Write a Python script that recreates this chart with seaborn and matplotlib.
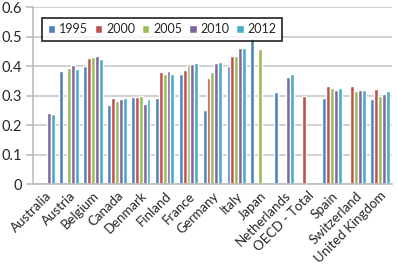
import numpy as np
import pandas as pd
import matplotlib
matplotlib.use("Agg")
import matplotlib.pyplot as plt
import seaborn as sns

countries = [
    "Australia", "Austria", "Belgium", "Canada", "Denmark", "Finland",
    "France", "Germany", "Italy", "Japan", "Netherlands", "OECD - Total",
    "Spain", "Switzerland", "United Kingdom",
]
years = ["1995", "2000", "2005", "2010", "2012"]
nan = np.nan
v1995 = [nan, 0.383, 0.400, 0.268, 0.295, 0.293, 0.372, 0.251, 0.400, 0.494, 0.313, nan, 0.293, nan, 0.290]
v2000 = [nan, nan, 0.429, 0.293, 0.295, 0.381, 0.386, 0.358, 0.435, nan, nan, 0.300, 0.333, 0.333, 0.321]
v2005 = [nan, 0.393, 0.432, 0.281, 0.299, 0.373, 0.407, 0.379, 0.435, 0.458, nan, nan, 0.325, 0.315, 0.300]
v2010 = [0.240, 0.403, 0.433, 0.287, 0.273, 0.383, 0.407, 0.410, 0.460, nan, 0.364, nan, 0.318, 0.318, 0.306]
v2012 = [0.237, 0.389, 0.423, 0.293, 0.288, 0.374, 0.410, 0.415, 0.460, nan, 0.372, nan, 0.324, 0.318, 0.315]
colors = ["#4F81BD", "#C0504D", "#9BBB59", "#8064A2", "#4BACC6"]

df = pd.DataFrame({"country": countries, "1995": v1995, "2000": v2000,
                   "2005": v2005, "2010": v2010, "2012": v2012})
df_long = df.melt(id_vars="country", var_name="year", value_name="value")

sns.set_style("white")
plt.rcParams["font.family"] = ["Lato", "DejaVu Sans"]

fig = plt.figure(figsize=(3.97, 2.64), dpi=100)
ax = fig.add_axes([0.083, 0.303, 0.904, 0.67])
sns.barplot(data=df_long, x="country", y="value", hue="year", order=countries,
            hue_order=years, palette=colors, errorbar=None, width=0.82,
            saturation=1, ax=ax)

ax.set_ylim(0, 0.6)
ax.set_xlim(-0.5, len(countries) - 0.5)
ax.set_yticks(np.arange(0, 0.61, 0.1))
ax.set_yticklabels(["0", "0.1", "0.2", "0.3", "0.4", "0.5", "0.6"])
ax.yaxis.grid(True, color="#c8c8c8", linewidth=1.2)
ax.set_axisbelow(True)
ax.set_xlabel("")
ax.set_ylabel("")
for s in ["top", "right"]:
    ax.spines[s].set_visible(False)
for s in ["left", "bottom"]:
    ax.spines[s].set_color("#bdbdbd")
    ax.spines[s].set_linewidth(1.2)

ax.set_xticks(range(len(countries)))
ax.set_xticklabels(countries, rotation=45, ha="right", rotation_mode="anchor")
ax.set_xticks(np.arange(-0.5, len(countries), 1), minor=True)
ax.tick_params(axis="x", which="major", length=0, labelsize=9.5, pad=4)
ax.tick_params(axis="x", which="minor", length=5, color="#bdbdbd", width=1.2)
ax.tick_params(axis="y", length=5, color="#bdbdbd", width=1.2, labelsize=10.5, pad=3,
               left=True)

leg = ax.legend(loc="upper left", bbox_to_anchor=(0.008, 0.975), ncol=5,
                frameon=True, fancybox=False, edgecolor="black",
                handlelength=0.6, handleheight=0.6, handletextpad=0.3,
                columnspacing=0.55, borderpad=0.45, fontsize=9)
leg.get_frame().set_linewidth(1.3)

fig.savefig("out.png", dpi=100)
